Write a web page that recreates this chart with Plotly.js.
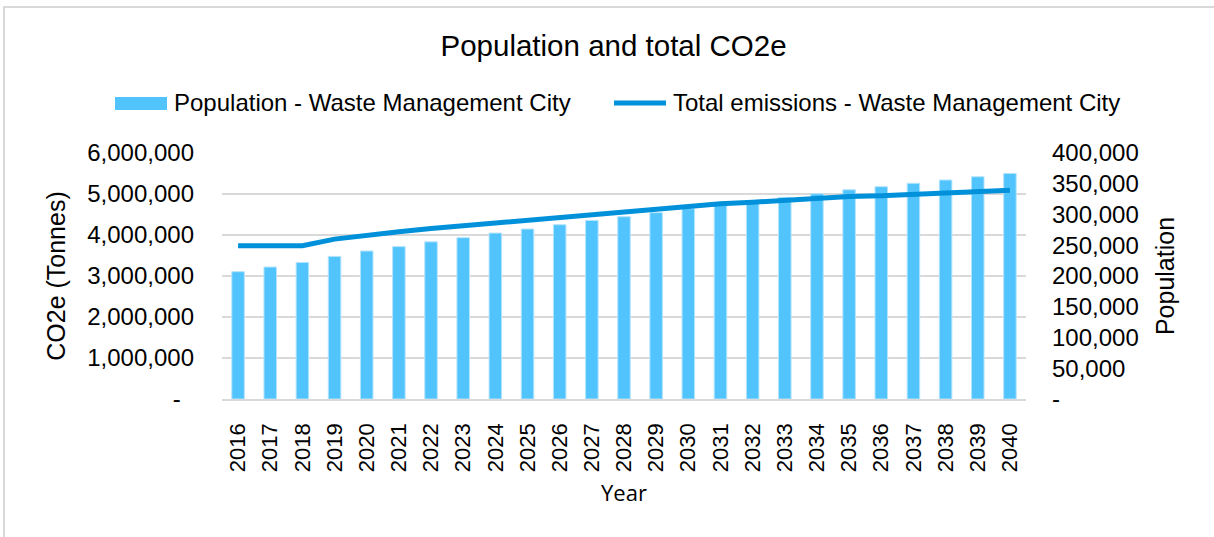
<!DOCTYPE html>
<html>
<head>
<meta charset="utf-8">
<script src="https://cdn.plot.ly/plotly-3.0.1.min.js"></script>
<style>
  html, body { margin: 0; padding: 0; background: #ffffff; overflow: hidden; width: 1214px; height: 537px; }
  #frame { position: absolute; left: 3px; top: 6px; width: 1240px; height: 560px;
           border-left: 2px solid #d9d9d9; border-top: 2px solid #d9d9d9; }
  #chart { position: absolute; left: 0; top: 0; width: 1214px; height: 537px; }
</style>
</head>
<body>
<div id="frame"></div>
<div id="chart"></div>
<script>
// Year categories
const years = ['2016','2017','2018','2019','2020','2021','2022','2023','2024','2025','2026','2027','2028',
               '2029','2030','2031','2032','2033','2034','2035','2036','2037','2038','2039','2040'];

// Population of Waste Management City (right axis)
const population = [207000, 214600, 222000, 231900, 240600, 247800, 255500, 262300, 269800, 276400,
                    283400, 290400, 296400, 303000, 309500, 315800, 322000, 327900, 333800, 340200,
                    345200, 350700, 356100, 361400, 366800];

// Total emissions in tonnes CO2e (left axis)
const emissions = [3740000, 3740000, 3740000, 3900000, 4000000, 4080000, 4160000, 4230000, 4290000, 4360000,
                   4430000, 4490000, 4560000, 4640000, 4700000, 4760000, 4800000, 4850000, 4890000, 4940000,
                   4960000, 4990000, 5010000, 5040000, 5090000];

// Series names
const popName = 'Population - Waste Management City';
const emiName = 'Total emissions - Waste Management City';

// Axis ticks
const co2Ticks = [0, 1000000, 2000000, 3000000, 4000000, 5000000, 6000000];
const popTicks = [0, 50000, 100000, 150000, 200000, 250000, 300000, 350000, 400000];

const fmt = v => v === 0 ? '-' : v.toLocaleString('en-US');
const NB = '\u00a0';

const FONT = 'Liberation Sans, Arial, sans-serif';
const GRID = '#d9d9d9';
const BAR_COLOR = '#52c4fd';
const LINE_COLOR = '#0091da';

// Plot-area geometry (pixels)
const M = { l: 222, r: 188, t: 153, b: 138 };
const W = 1214, H = 537;
const PW = W - M.l - M.r, PH = H - M.t - M.b;
const px = x => (x - M.l) / PW;          // page x -> paper x
const py = y => (H - M.b - y) / PH;      // page y -> paper y

const traces = [
  {
    type: 'bar',
    name: popName,
    x: years,
    y: population,
    yaxis: 'y',
    marker: { color: BAR_COLOR, line: { color: '#b4e4fd', width: 1 } },
    hoverinfo: 'x+y'
  },
  {
    type: 'scatter',
    mode: 'lines',
    name: emiName,
    x: years,
    y: emissions,
    yaxis: 'y2',
    line: { color: LINE_COLOR, width: 5, shape: 'linear' },
    hoverinfo: 'x+y'
  }
];

// Legend row drawn with shapes and annotations for wide swatches
const legendY = py(103);
const legendShapes = [
  { type: 'rect', xref: 'paper', yref: 'paper', x0: px(115), x1: px(167), y0: py(110), y1: py(97),
    fillcolor: BAR_COLOR, line: { width: 0 } },
  { type: 'line', xref: 'paper', yref: 'paper', x0: px(614), x1: px(666), y0: legendY, y1: legendY,
    line: { color: LINE_COLOR, width: 5 } }
];
const legendText = [
  { text: popName, xref: 'paper', yref: 'paper', x: px(172), y: legendY, xanchor: 'left', yanchor: 'middle',
    showarrow: false, font: { family: FONT, size: 24, color: '#000000' } },
  { text: emiName, xref: 'paper', yref: 'paper', x: px(671), y: legendY, xanchor: 'left', yanchor: 'middle',
    showarrow: false, font: { family: FONT, size: 24, color: '#000000' } }
];

const layout = {
  width: W,
  height: H,
  paper_bgcolor: 'rgba(0,0,0,0)',
  plot_bgcolor: 'rgba(0,0,0,0)',
  margin: Object.assign({ pad: 0 }, M),
  font: { family: FONT, color: '#000000', size: 22 },
  title: {
    text: 'Population and total CO2e',
    font: { family: FONT, size: 29.5, color: '#000000' },
    xref: 'container', x: 0.5054, xanchor: 'center',
    yref: 'container', y: 1 - 46 / H, yanchor: 'middle'
  },
  showlegend: false,
  shapes: legendShapes,
  annotations: legendText,
  bargap: 0.61,
  xaxis: {
    type: 'category',
    range: [-0.5, 24.5],
    tickangle: -90,
    tickfont: { family: FONT, size: 22 },
    ticklabelstandoff: 14,
    showgrid: false,
    zeroline: false,
    showline: true,
    linecolor: GRID,
    linewidth: 1.5,
    ticks: '',
    title: { text: 'Year', font: { family: 'Open Sans, sans-serif', size: 22 }, standoff: 14 }
  },
  // Population axis on the right (bars drawn underneath)
  yaxis: {
    side: 'right',
    range: [0, 400000],
    tickvals: popTicks,
    ticktext: popTicks.map(fmt),
    tickfont: { family: FONT, size: 24 },
    ticklabelstandoff: 25,
    showgrid: false,
    zeroline: false,
    ticks: '',
    title: { text: 'Population', font: { family: FONT, size: 25 }, standoff: 18 }
  },
  // CO2e axis on the left (line drawn on top)
  yaxis2: {
    side: 'left',
    overlaying: 'y',
    range: [0, 6000000],
    tickvals: co2Ticks,
    ticktext: co2Ticks.map(v => v === 0 ? '-' + NB + NB : fmt(v)),
    tickfont: { family: FONT, size: 24 },
    ticklabelstandoff: 27,
    showgrid: true,
    gridcolor: GRID,
    gridwidth: 1.5,
    zeroline: false,
    ticks: '',
    title: { text: 'CO2e (Tonnes)', font: { family: FONT, size: 25 }, standoff: 14 }
  }
};

Plotly.newPlot('chart', traces, layout, { displayModeBar: false, staticPlot: true });
</script>
</body>
</html>
